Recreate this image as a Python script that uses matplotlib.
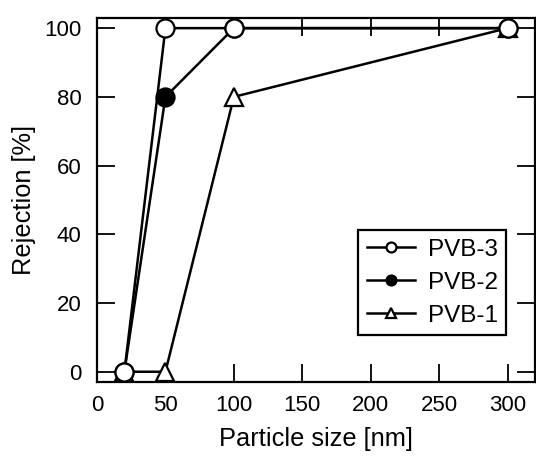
import matplotlib.pyplot as plt

plt.rcParams["font.family"] = ["Liberation Sans", "DejaVu Sans"]

size_nm = [20, 50, 100, 300]
pvb1 = [0, 0, 80, 100]
pvb2 = [0, 80, 100, 100]
pvb3 = [0, 100, 100, 100]

fig = plt.figure(figsize=(5.36, 4.57), dpi=100)
ax = fig.add_axes([0.181, 0.164, 0.817, 0.797])

lw = 1.8
ms = 13
l1, = ax.plot(size_nm, pvb1, color="black", lw=lw, marker="^", ms=ms,
              mfc="white", mec="black", mew=1.6, label="PVB-1", zorder=3)
l2, = ax.plot(size_nm, pvb2, color="black", lw=lw, marker="o", ms=ms,
              mfc="black", mec="black", mew=1.6, label="PVB-2", zorder=4)
l3, = ax.plot(size_nm, pvb3, color="black", lw=lw, marker="o", ms=ms,
              mfc="white", mec="black", mew=1.6, label="PVB-3", zorder=5)

ax.set_xlim(0, 320)
ax.set_ylim(-3, 103)
ax.set_xticks([0, 50, 100, 150, 200, 250, 300])
ax.set_yticks([0, 20, 40, 60, 80, 100])
ax.tick_params(direction="in", length=13, width=1.3, labelsize=16,
               top=True, right=True)
ax.tick_params(axis="x", pad=9)
ax.tick_params(axis="y", pad=11)
for s in ax.spines.values():
    s.set_linewidth(1.6)

ax.set_xlabel("Particle size [nm]", fontsize=18.3, labelpad=8)
ax.set_ylabel("Rejection [%]", fontsize=18.3, labelpad=6)

leg = ax.legend([l3, l2, l1], ["PVB-3", "PVB-2", "PVB-1"], loc="lower right",
                bbox_to_anchor=(0.934, 0.129), borderaxespad=0,
                fontsize=17.5, markerscale=0.55,
                fancybox=False, edgecolor="black", framealpha=1,
                handlelength=2.0, handletextpad=0.5, borderpad=0.35,
                labelspacing=0.45)
leg.get_frame().set_linewidth(1.6)

fig.savefig("out.png", dpi=100)
